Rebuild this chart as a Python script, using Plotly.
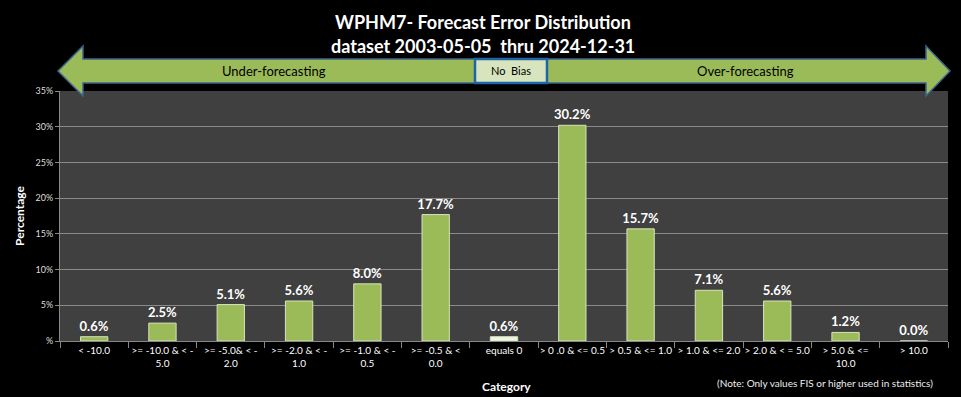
import plotly.graph_objects as go

categories = ["< -10.0", ">= -10.0 & < -<br>5.0", ">= -5.0& < -<br>2.0", ">= -2.0 & < -<br>1.0",
              ">= -1.0 & < -<br>0.5", ">= -0.5 & <<br>0.0", "equals 0", "> 0 .0 & <= 0.5",
              "> 0.5 & <= 1.0", "> 1.0 & <= 2.0", "> 2.0 & < = 5.0", "> 5.0 & <=<br>10.0", "> 10.0"]
values = [0.6, 2.5, 5.1, 5.6, 8.0, 17.7, 0.6, 30.2, 15.7, 7.1, 5.6, 1.2, 0.0]
bar_colors = ["#9bbb59"] * 6 + ["#eef3e2"] + ["#9bbb59"] * 6
y_ticks = [0, 5, 10, 15, 20, 25, 30, 35]
y_tick_text = ["%", "5%", "10%", "15%", "20%", "25%", "30%", "35%"]

W, H = 961, 397
L, R, T, B = 60, 13, 91, 56
PW, PH = W - L - R, H - T - B

def px(x):
    return (x - L) / PW

def py(y):
    return (H - B - y) / PH

FONT = "Lato"

fig = go.Figure()
fig.add_trace(go.Bar(
    x=categories, y=values,
    marker=dict(color=bar_colors, line=dict(color="#d7e4bd", width=1)),
    width=0.4,
    texttemplate="<b>%{y:.1f}%</b>", textposition="outside", constraintext="none",
    textfont=dict(color="white", size=13, family=FONT),
    cliponaxis=False,
))

arrow = [(58, 71), (83, 46), (83, 59), (926, 59), (926, 46), (950, 71),
         (926, 96), (926, 83), (83, 83), (83, 96)]
path = "M " + " L ".join(f"{px(a):.5f},{py(b):.5f}" for a, b in arrow) + " Z"
fig.add_shape(type="path", path=path, xref="paper", yref="paper",
              fillcolor="#9bbb59", line=dict(color="#3c6390", width=1.5), layer="above")
fig.add_shape(type="rect", xref="paper", yref="paper",
              x0=px(475), x1=px(547), y0=py(59), y1=py(83),
              fillcolor="#d7e4bd", line=dict(color="#1f63a8", width=2.5), layer="above")

def ann(text, x, y, size, color="white", bold=False, **kw):
    fig.add_annotation(text=f"<b>{text}</b>" if bold else text, x=px(x), y=py(y),
                       xref="paper", yref="paper", showarrow=False,
                       xanchor="center", yanchor="middle",
                       font=dict(size=size, color=color, family=FONT), **kw)

ann("WPHM7- Forecast Error Distribution", 483, 22, 18, bold=True)
ann("dataset 2003-05-05  thru 2024-12-31", 483, 46, 18, bold=True)
ann("Under-forecasting", 274, 71, 13, color="black")
ann("No  Bias", 511, 71, 11, color="black")
ann("Over-forecasting", 745, 71, 13, color="black")
ann("Category", 506, 386, 12, bold=True)
ann("(Note: Only values FIS or higher used in statistics)", 825, 383, 10, color="#eeeeee")

fig.update_layout(
    width=W, height=H,
    margin=dict(l=L, r=R, t=T, b=B),
    paper_bgcolor="black", plot_bgcolor="#404040",
    showlegend=False, bargap=0.6,
    font=dict(family=FONT, color="white"),
)
fig.update_xaxes(tickson="boundaries", ticks="outside", ticklen=6, tickcolor="#888888",
                 showline=True, linecolor="#888888", linewidth=1,
                 tickfont=dict(size=10, color="white", family=FONT), tickangle=0,
                 showgrid=False)
fig.update_yaxes(range=[0, 35], tickvals=y_ticks, ticktext=y_tick_text,
                 ticks="outside", ticklen=4, tickcolor="#888888",
                 showline=True, linecolor="#888888", linewidth=1,
                 gridcolor="#8a8a8a", gridwidth=1, zeroline=False,
                 tickfont=dict(size=9, color="#dddddd", family=FONT),
                 title=dict(text="<b>Percentage</b>", font=dict(size=12, color="white", family=FONT),
                            standoff=8))

fig.write_html("out.html", config={"displayModeBar": False},
               post_script="document.body.style.margin='0';document.body.style.background='black';")
